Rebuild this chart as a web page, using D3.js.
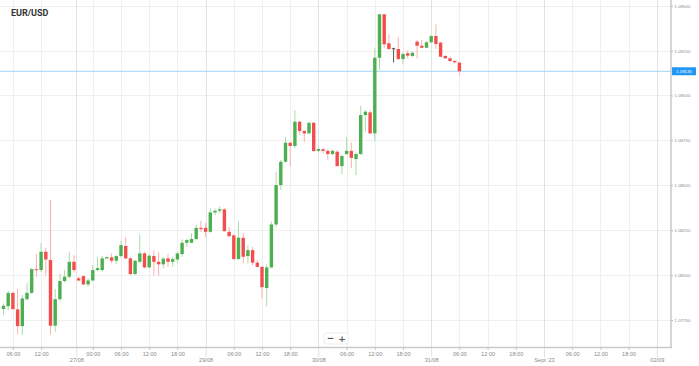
<!DOCTYPE html>
<html><head><meta charset="utf-8">
<script src="https://cdn.jsdelivr.net/npm/d3@7"></script>
<style>
html,body{margin:0;padding:0;background:#fff;}
svg{display:block;}
</style>
</head><body>
<svg id="c" width="699" height="366"></svg>
<script>
const title = "EUR/USD";
const opens  = [1.07811,1.07827,1.07901,1.07809,1.07716,1.07866,1.07901,1.08033,1.08028,1.08130,1.08084,1.07718,1.07866,1.07967,1.07991,1.08074,1.07982,1.07994,1.07948,1.07970,1.08028,1.08028,1.08093,1.08099,1.08080,1.08106,1.08162,1.08093,1.08006,1.08074,1.08121,1.08043,1.08106,1.08074,1.08060,1.08093,1.08074,1.08087,1.08117,1.08180,1.08180,1.08201,1.08263,1.08263,1.08241,1.08349,1.08358,1.08366,1.08241,1.08221,1.08089,1.08208,1.08106,1.08139,1.08069,1.08046,1.07928,1.08043,1.08282,1.08501,1.08631,1.08737,1.08719,1.08854,1.08802,1.08789,1.08848,1.08692,1.08700,1.08692,1.08674,1.08687,1.08607,1.08674,1.08692,1.08646,1.08674,1.08891,1.08906,1.08789,1.09210,1.09452,1.09291,1.09263,1.09259,1.09203,1.09235,1.09220,1.09300,1.09277,1.09266,1.09296,1.09331,1.09294,1.09220,1.09207,1.09192,1.09183];
const highs  = [1.07842,1.07911,1.07907,1.07922,1.07889,1.07955,1.08041,1.08117,1.08178,1.08152,1.08418,1.07922,1.08006,1.08028,1.08130,1.08111,1.07991,1.08000,1.07982,1.08056,1.08102,1.08106,1.08104,1.08121,1.08111,1.08191,1.08213,1.08102,1.08084,1.08227,1.08130,1.08115,1.08139,1.08130,1.08102,1.08117,1.08102,1.08130,1.08199,1.08204,1.08232,1.08279,1.08302,1.08291,1.08372,1.08372,1.08384,1.08372,1.08266,1.08227,1.08297,1.08232,1.08167,1.08158,1.08084,1.08050,1.08061,1.08297,1.08575,1.08641,1.08770,1.08742,1.08919,1.08858,1.08808,1.08854,1.08854,1.08715,1.08709,1.08700,1.08696,1.08696,1.08672,1.08770,1.08739,1.08683,1.08943,1.08919,1.08919,1.09263,1.09454,1.09454,1.09341,1.09266,1.09327,1.09244,1.09253,1.09244,1.09309,1.09309,1.09304,1.09337,1.09396,1.09300,1.09225,1.09216,1.09198,1.09188];
const lows   = [1.07777,1.07805,1.07805,1.07671,1.07666,1.07855,1.07894,1.07989,1.08017,1.08000,1.07670,1.07684,1.07855,1.07959,1.07982,1.08015,1.07967,1.07944,1.07935,1.07967,1.08022,1.08018,1.08089,1.08065,1.08060,1.08096,1.08089,1.08000,1.08000,1.08065,1.08037,1.08037,1.08000,1.07996,1.08039,1.08046,1.08046,1.08065,1.08102,1.08158,1.08177,1.08195,1.08241,1.08213,1.08236,1.08334,1.08345,1.08241,1.08210,1.08087,1.08087,1.08065,1.08065,1.08056,1.08041,1.07872,1.07827,1.08037,1.08269,1.08474,1.08626,1.08607,1.08706,1.08780,1.08742,1.08785,1.08687,1.08685,1.08678,1.08641,1.08668,1.08603,1.08561,1.08668,1.08594,1.08557,1.08668,1.08798,1.08785,1.08746,1.09142,1.09263,1.09253,1.09184,1.09198,1.09174,1.09207,1.09214,1.09207,1.09263,1.09263,1.09291,1.09259,1.09213,1.09203,1.09185,1.09179,1.09110];
const closes = [1.07829,1.07901,1.07811,1.07716,1.07870,1.07901,1.08033,1.08028,1.08130,1.08087,1.07718,1.07866,1.07967,1.07991,1.08074,1.08028,1.07970,1.07948,1.07970,1.08028,1.08039,1.08093,1.08100,1.08080,1.08106,1.08167,1.08093,1.08006,1.08080,1.08121,1.08043,1.08108,1.08074,1.08060,1.08091,1.08074,1.08089,1.08121,1.08180,1.08195,1.08201,1.08263,1.08256,1.08241,1.08349,1.08358,1.08366,1.08245,1.08217,1.08089,1.08208,1.08102,1.08139,1.08069,1.08046,1.07933,1.08043,1.08282,1.08501,1.08631,1.08737,1.08719,1.08854,1.08802,1.08789,1.08848,1.08691,1.08702,1.08691,1.08674,1.08692,1.08607,1.08663,1.08692,1.08653,1.08674,1.08891,1.08910,1.08789,1.09210,1.09452,1.09285,1.09259,1.09263,1.09203,1.09231,1.09222,1.09238,1.09277,1.09266,1.09296,1.09331,1.09287,1.09216,1.09207,1.09192,1.09185,1.09135];

const priceTicks = [1.0775,1.0800,1.0825,1.0850,1.0875,1.0900,1.0925,1.0950];
const timeTickIdx = [2,8,19,25,31,37,49,55,61,73,79,85,97,103,109,121,127,133];
const timeTickLabels = ["06:00","12:00","00:00","06:00","12:00","18:00","06:00","12:00","18:00","06:00","12:00","18:00","06:00","12:00","18:00","06:00","12:00","18:00"];
const dateTickIdx = [15.5,43,67,91,115,139];
const dateTickLabels = ["27/08","29/08","30/08","31/08","Sept '23","02/09"];
const lastPrice = 1.09135;

const W = 699, H = 366;
const plotR = 671, plotB = 347.5;
const svg = d3.select("#c");

const x = d3.scaleLinear().domain([0, 139]).range([3.5, 656.8]);
const y = d3.scaleLinear().domain([1.0775, 1.0950]).range([320, 5.7]);

const candles = opens.map((o, i) => ({i, o, h: highs[i], l: lows[i], c: closes[i]}));

// grid
const grid = svg.append("g");
grid.selectAll("line.h").data(priceTicks).join("line")
  .attr("x1", 0).attr("x2", plotR)
  .attr("y1", d => Math.round(y(d)) + 0.5).attr("y2", d => Math.round(y(d)) + 0.5)
  .attr("stroke", "#efefef").attr("stroke-width", 1);
grid.selectAll("line.vt").data(timeTickIdx).join("line")
  .attr("x1", d => Math.round(x(d)) + 0.5).attr("x2", d => Math.round(x(d)) + 0.5)
  .attr("y1", 0).attr("y2", plotB)
  .attr("stroke", "#efefef").attr("stroke-width", 1);
grid.selectAll("line.vd").data(dateTickIdx).join("line")
  .attr("x1", d => Math.round(x(d)) + 0.5).attr("x2", d => Math.round(x(d)) + 0.5)
  .attr("y1", 0).attr("y2", plotB)
  .attr("stroke", "#e2e2e2").attr("stroke-width", 1);

// current price line
svg.append("line")
  .attr("x1", 0).attr("x2", plotR)
  .attr("y1", y(lastPrice)).attr("y2", y(lastPrice))
  .attr("stroke", "#9fd0f5").attr("stroke-width", 1.2);

// candles
const colorOf = d => d.c > d.o ? "#4cb050" : (d.c < d.o ? "#f44d4d" : "#555555");
const wickOf = d => d.c > d.o ? "#a8dcaa" : (d.c < d.o ? "#fbb0b0" : "#555555");
const cg = svg.append("g");
cg.selectAll("line.wick").data(candles).join("line")
  .attr("x1", d => x(d.i)).attr("x2", d => x(d.i))
  .attr("y1", d => y(d.h)).attr("y2", d => y(d.l))
  .attr("stroke", wickOf).attr("stroke-width", 1);
const bw = 3.4;
cg.selectAll("rect.body").data(candles).join("rect")
  .attr("x", d => x(d.i) - bw / 2)
  .attr("width", bw)
  .attr("y", d => y(Math.max(d.o, d.c)))
  .attr("height", d => Math.max(1, Math.abs(y(d.o) - y(d.c))))
  .attr("fill", colorOf);

// axes frame
svg.append("line").attr("x1", 0).attr("x2", plotR + 1).attr("y1", plotB).attr("y2", plotB)
  .attr("stroke", "#c9c9c9").attr("stroke-width", 1.5);
svg.append("line").attr("x1", plotR).attr("x2", plotR).attr("y1", 0).attr("y2", plotB)
  .attr("stroke", "#c9c9c9").attr("stroke-width", 1.5);

// right axis
const yAxis = d3.axisRight(y).tickValues(priceTicks).tickFormat(d3.format(".5f")).tickSize(2).tickPadding(1.5);
const ya = svg.append("g").attr("transform", `translate(${plotR},0)`).call(yAxis);
ya.select(".domain").remove();
ya.selectAll("line").attr("stroke", "#bbb");
ya.selectAll("text").attr("fill", "#8a8a8a").attr("font-size", 4.4)
  .attr("font-family", "Liberation Sans, Arial, sans-serif");

// price label
const pl = svg.append("g").attr("transform", `translate(${plotR + 1},${y(lastPrice)})`);
pl.append("rect").attr("x", 0).attr("y", -4).attr("width", 24).attr("height", 8).attr("fill", "#2196f3");
pl.append("text").attr("x", 12).attr("y", 0).attr("dy", "0.35em").attr("text-anchor", "middle")
  .attr("fill", "#fff").attr("font-size", 4.4).attr("font-family", "Liberation Sans, Arial, sans-serif")
  .text(d3.format(".5f")(lastPrice));

// bottom axis: times
const xAxisT = d3.axisBottom(x).tickValues(timeTickIdx).tickFormat((d, i) => timeTickLabels[i]).tickSize(2.5).tickPadding(2);
const xt = svg.append("g").attr("transform", `translate(0,${plotB})`).call(xAxisT);
xt.select(".domain").remove();
xt.selectAll("line").attr("stroke", "#c4c4c4");
xt.selectAll("text").attr("fill", "#8a8a8a").attr("font-size", 5.6)
  .attr("font-family", "Liberation Sans, Arial, sans-serif");

// bottom axis: dates
const xAxisD = d3.axisBottom(x).tickValues(dateTickIdx).tickFormat((d, i) => dateTickLabels[i]).tickSize(9).tickPadding(1.5);
const xd = svg.append("g").attr("transform", `translate(0,${plotB})`).call(xAxisD);
xd.select(".domain").remove();
xd.selectAll("line").attr("stroke", "#c4c4c4").attr("stroke-dasharray", "1,1");
xd.selectAll("text").attr("fill", "#8a8a8a").attr("font-size", 5.6)
  .attr("font-family", "Liberation Sans, Arial, sans-serif");

// title
svg.append("text").attr("x", 11).attr("y", 15.5).text(title)
  .attr("font-family", "Roboto, Liberation Sans, Arial, sans-serif").attr("font-weight", "bold")
  .attr("font-size", 9).attr("fill", "#333");

// zoom control
const zc = svg.append("g").attr("transform", "translate(324,333)");
zc.append("rect").attr("x", 0).attr("y", 0).attr("width", 24).attr("height", 11).attr("rx", 2)
  .attr("fill", "#fff").attr("stroke", "#eee");
zc.append("text").attr("x", 6.5).attr("y", 8.2).attr("text-anchor", "middle").attr("font-size", 9)
  .attr("font-weight", "bold").attr("fill", "#555").attr("font-family", "DejaVu Sans, sans-serif").text("−");
zc.append("text").attr("x", 18).attr("y", 8.5).attr("text-anchor", "middle").attr("font-size", 9)
  .attr("font-weight", "bold").attr("fill", "#555").attr("font-family", "DejaVu Sans, sans-serif").text("+");
</script>
</body></html>
